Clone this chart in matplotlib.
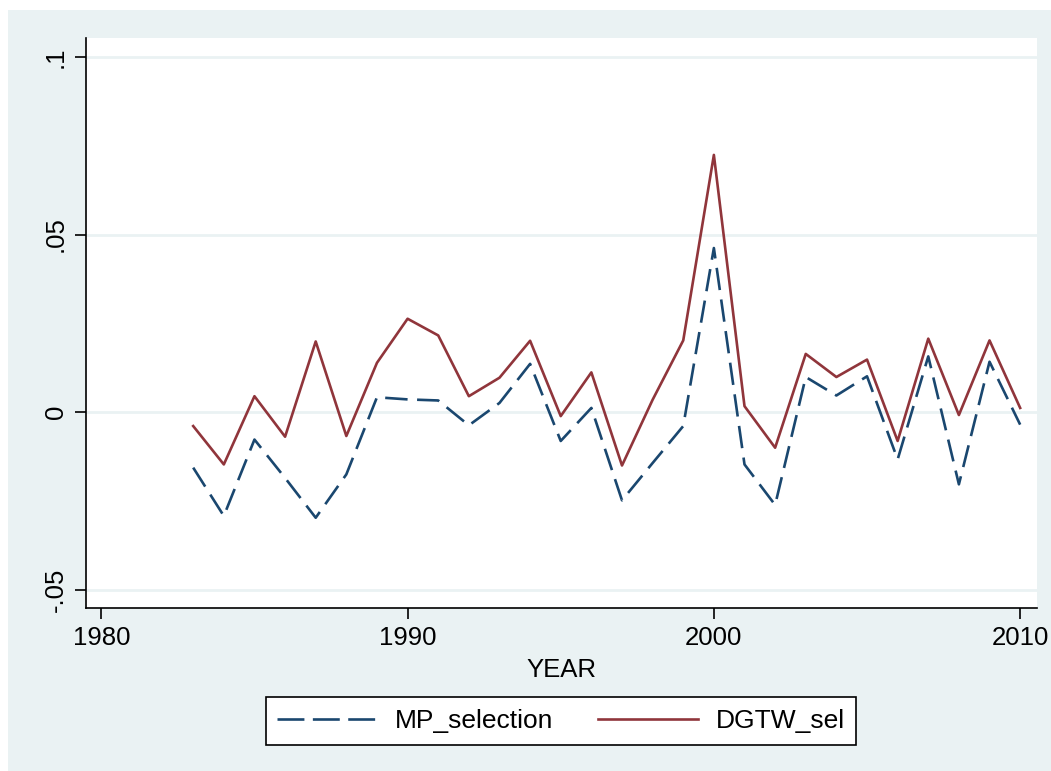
import matplotlib
matplotlib.use("Agg")
import matplotlib.pyplot as plt
from matplotlib.patches import Rectangle
from matplotlib.lines import Line2D

years = list(range(1983, 2011))
mp_selection = [-0.0156, -0.0292, -0.0077, -0.0185, -0.0297, -0.0175, 0.0042, 0.0036,
                0.0033, -0.0037, 0.0026, 0.0136, -0.0081, 0.0012, -0.0248, -0.0143,
                -0.0039, 0.0462, -0.0147, -0.0261, 0.0099, 0.0047, 0.0101, -0.0133,
                0.0157, -0.0203, 0.0142, -0.0035]
dgtw_sel = [-0.0039, -0.0147, 0.0045, -0.0069, 0.0199, -0.0067, 0.0139, 0.0263,
            0.0216, 0.0045, 0.0097, 0.0201, -0.0011, 0.0112, -0.0150, 0.0035,
            0.0202, 0.0724, 0.0017, -0.0100, 0.0164, 0.0099, 0.0148, -0.0081,
            0.0207, -0.0008, 0.0202, 0.0012]
xticks = [1980, 1990, 2000, 2010]
yticks = [-0.05, 0, 0.05, 0.1]
ytick_labels = ["-.05", "0", ".05", ".1"]
series_names = ['MP_selection', 'DGTW_sel']

W, H = 1051, 771
plt.rcParams['font.family'] = ['Liberation Sans', 'DejaVu Sans']
fig = plt.figure(figsize=(W / 100, H / 100), dpi=100, facecolor='white')
bg = '#EAF2F3'
fig.patches.append(Rectangle((8 / W, 0), 1 - 8 / W, 1 - 10 / H, transform=fig.transFigure,
                             facecolor=bg, edgecolor='none', zorder=-10))

ax = fig.add_axes([86 / W, 1 - 608 / H, (1037 - 86) / W, (608 - 38) / H])
ax.set_facecolor('white')
navy = '#1A476F'
maroon = '#90353B'

ax.plot(years, mp_selection, color=navy, lw=1.9, ls=(0, (8.5, 3.6)), zorder=3)
ax.plot(years, dgtw_sel, color=maroon, lw=1.9, zorder=3)

ax.set_xlim(1979.5, 2010.55)
ax.set_ylim(-0.0551, 0.1053)
ax.set_xticks(xticks)
ax.set_xticklabels([str(t) for t in xticks])
ax.set_yticks(yticks)
ax.set_yticklabels(ytick_labels, rotation=90, va='center')
for y in yticks:
    ax.axhline(y, color=bg, lw=2, zorder=1)

for s in ['top', 'right']:
    ax.spines[s].set_visible(False)
for s in ['left', 'bottom']:
    ax.spines[s].set_color('black')
    ax.spines[s].set_linewidth(1.2)
ax.tick_params(axis='both', direction='out', length=8, width=1.2, colors='black',
               labelsize=18.5, pad=5)
ax.set_xlabel('YEAR', fontsize=18.5, labelpad=6)

handles = [Line2D([], [], color=navy, lw=1.9, ls=(0, (10.2, 3.2))),
           Line2D([], [], color=maroon, lw=1.9)]
leg = fig.legend(handles, series_names, loc='center', bbox_to_anchor=(561 / W, 1 - 721 / H),
                 ncol=2, fontsize=19, frameon=True, fancybox=False, edgecolor='black',
                 framealpha=1, handlelength=3.8, columnspacing=1.7, borderpad=0.45,
                 handletextpad=0.65)
leg.get_frame().set_linewidth(1.2)
leg.get_frame().set_facecolor('white')

fig.savefig('out.png', dpi=100, facecolor=fig.get_facecolor())
